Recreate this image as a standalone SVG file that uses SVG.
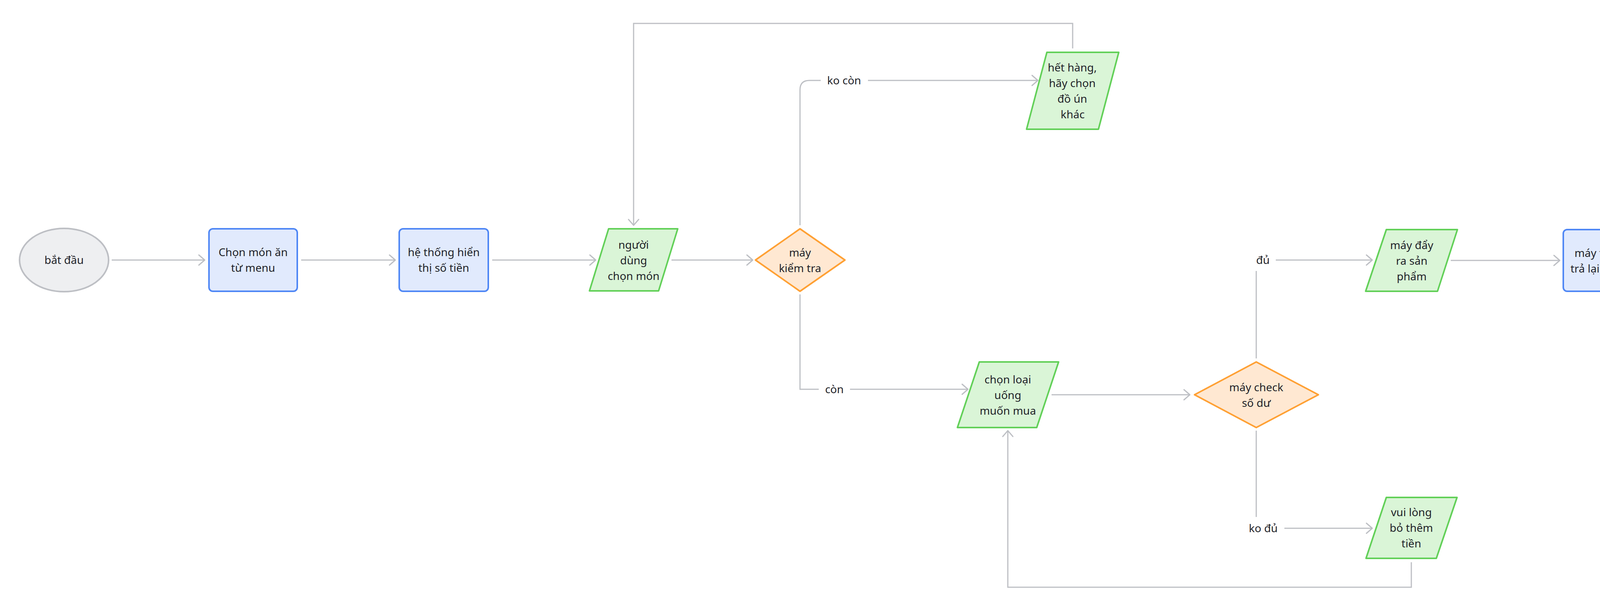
<svg xmlns="http://www.w3.org/2000/svg" width="4810" height="1570" viewBox="0 0 4810 1570">
<defs>
<style>
.t{font-family:"Noto Sans","Open Sans","DejaVu Sans",sans-serif;font-size:28px;fill:#1F2329;text-anchor:middle;}
.term{fill:#EEEFF1;stroke:#BDBFC4;stroke-width:4;}
.proc{fill:#E1EAFD;stroke:#4F87F5;stroke-width:4;}
.io{fill:#DAF5D7;stroke:#62D058;stroke-width:4;stroke-linejoin:round;}
.dec{fill:#FFE8D2;stroke:#FFA033;stroke-width:4;stroke-linejoin:round;}
.c{fill:none;stroke:#BDBFC4;stroke-width:3;}
.lbg{fill:#FFFFFF;}
</style>
<marker id="arr" markerUnits="userSpaceOnUse" markerWidth="22" markerHeight="32" viewBox="-19 -16 22 32" refX="0" refY="0" orient="auto">
<path d="M-15,-13 L0,0 L-15,13" fill="none" stroke="#BDBFC4" stroke-width="3" stroke-linecap="round" stroke-linejoin="round"/>
</marker>
</defs>
<rect width="4810" height="1570" fill="#FFFFFF"/>

<g id="connectors">
<path class="c" d="M286,666 L524,666" marker-end="url(#arr)"/>
<path class="c" d="M771,666 L1012,666" marker-end="url(#arr)"/>
<path class="c" d="M1260,666 L1525,666" marker-end="url(#arr)"/>
<path class="c" d="M1719,666 L1927,666" marker-end="url(#arr)"/>
<path class="c" d="M2048,577 L2048,230 Q2048,206 2072,206 L2657,206" marker-end="url(#arr)"/>
<path class="c" d="M2048,754 L2048,997 L2478,997" marker-end="url(#arr)"/>
<path class="c" d="M2746,124 L2746,60 L1622,60 L1622,577" marker-end="url(#arr)"/>
<path class="c" d="M2692,1011 L3046,1011" marker-end="url(#arr)"/>
<path class="c" d="M3216,918 L3216,666 L3513,666" marker-end="url(#arr)"/>
<path class="c" d="M3216,1103 L3216,1353 L3513,1353" marker-end="url(#arr)"/>
<path class="c" d="M3613,1440 L3613,1504 L2580,1504 L2580,1103" marker-end="url(#arr)"/>
<path class="c" d="M3714,667 L3993,667" marker-end="url(#arr)"/>
<path class="c" d="M4248,667 L4513,667" marker-end="url(#arr)"/>
<g id="labels">
<rect class="lbg" x="2101" y="186" width="121" height="40"/>
<text class="t" x="2161" y="216">ko còn</text>
<rect class="lbg" x="2096" y="977" width="80" height="40"/>
<text class="t" x="2136" y="1007">còn</text>
<rect class="lbg" x="3200" y="640" width="66" height="54"/>
<text class="t" x="3233" y="676">đủ</text>
<rect class="lbg" x="3180" y="1324" width="108" height="58"/>
<text class="t" x="3234" y="1363">ko đủ</text>
</g>
</g>

<g id="n-batdau">
<ellipse class="term" cx="164" cy="666" rx="114" ry="81"/>
<text class="t" x="164" y="676">bắt đầu</text>
</g>
<g id="n-chonmon">
<rect class="proc" x="535" y="586" width="226" height="160" rx="10"/>
<text class="t" x="648" y="656">Chọn món ăn</text>
<text class="t" x="648" y="696">từ menu</text>
</g>
<g id="n-hethong">
<rect class="proc" x="1022" y="586" width="228" height="160" rx="10"/>
<text class="t" x="1136" y="656">hệ thống hiển</text>
<text class="t" x="1136" y="696">thị số tiền</text>
</g>
<g id="n-nguoidung">
<path class="io" d="M1558,586 L1735,586 L1686,745 L1509,745 Z"/>
<text class="t" x="1622" y="637">người</text>
<text class="t" x="1622" y="677">dùng</text>
<text class="t" x="1622" y="717">chọn món</text>
</g>
<g id="n-maykiemtra">
<path class="dec" d="M2048,586 L2163,666 L2048,746 L1934,666 Z"/>
<text class="t" x="2048" y="657">máy</text>
<text class="t" x="2048" y="697">kiểm tra</text>
</g>
<g id="n-hethang">
<path class="io" d="M2680,134 L2864,134 L2812,331 L2628,331 Z"/>
<text class="t" x="2745" y="183">hết hàng,</text>
<text class="t" x="2745" y="223">hãy chọn</text>
<text class="t" x="2745" y="263">đồ ún</text>
<text class="t" x="2746" y="303">khác</text>
</g>
<g id="n-chonloai">
<path class="io" d="M2507,927 L2710,927 L2654,1095 L2451,1095 Z"/>
<text class="t" x="2580" y="982">chọn loại</text>
<text class="t" x="2580" y="1022">uống</text>
<text class="t" x="2580" y="1062">muốn mua</text>
</g>
<g id="n-maycheck">
<path class="dec" d="M3216,927 L3375,1011 L3216,1095 L3058,1011 Z"/>
<text class="t" x="3216" y="1002">máy check</text>
<text class="t" x="3216" y="1042">số dư</text>
</g>
<g id="n-mayday">
<path class="io" d="M3549,588 L3731,588 L3680,746 L3496,746 Z"/>
<text class="t" x="3614" y="638">máy đẩy</text>
<text class="t" x="3614" y="678">ra sản</text>
<text class="t" x="3614" y="718">phẩm</text>
</g>
<g id="n-maytinhtien">
<rect class="proc" x="4002" y="588" width="238" height="158" rx="10"/>
<text class="t" x="4121" y="658">máy tính tiền,</text>
<text class="t" x="4121" y="698">trả lại tiền thừa</text>
</g>
<g id="n-ketthuc">
<rect class="term" x="4521" y="589" width="238" height="156" rx="64" ry="78"/>
<text class="t" x="4640" y="677">kết thúc</text>
</g>
<g id="n-vuilong">
<path class="io" d="M3549,1274 L3730,1274 L3677,1430 L3497,1430 Z"/>
<text class="t" x="3613" y="1322">vui lòng</text>
<text class="t" x="3613" y="1362">bỏ thêm</text>
<text class="t" x="3613" y="1402">tiền</text>
</g>
</svg>
